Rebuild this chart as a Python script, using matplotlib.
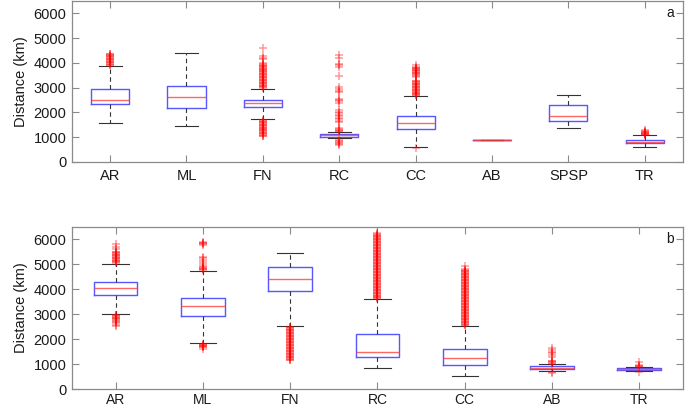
import matplotlib
matplotlib.use("Agg")
import matplotlib.pyplot as plt

plt.rcParams['font.family'] = ['Liberation Sans', 'DejaVu Sans']

# ---------------- Panel a ----------------
cats_a = ["AR", "ML", "FN", "RC", "CC", "AB", "SPSP", "TR"]
whislo_a = [1590, 1450, 1720, 950, 600, 870, 1390, 610]
q1_a     = [2320, 2170, 2200, 1020, 1350, 875, 1670, 770]
med_a    = [2490, 2640, 2360, 1070, 1590, 880, 1840, 800]
q3_a     = [2930, 3070, 2500, 1130, 1860, 885, 2280, 890]
whishi_a = [3870, 4390, 2950, 1220, 2660, 890, 2720, 1070]
fliers_a = [
    [3900, 3930, 3960, 3990, 4020, 4050, 4080, 4110, 4140, 4170, 4200, 4230, 4260,
     4290, 4320, 4350, 4370],
    [],
    [2990, 3020, 3050, 3080, 3110, 3140, 3170, 3200, 3230, 3260, 3290, 3320, 3350,
     3380, 3410, 3440, 3470, 3500, 3530, 3560, 3590, 3620, 3650, 3680, 3710, 3740,
     3770, 3800, 3830, 3860, 3890, 3920, 3950, 4010, 4150, 4200, 4280, 4610,
     1690, 1660, 1630, 1600, 1570, 1540, 1510, 1480, 1450, 1420, 1390, 1360, 1330,
     1300, 1270, 1240, 1210, 1180, 1150, 1120, 1090, 1060, 1040],
    [4320, 4210, 3950, 3900, 3840, 3480, 3010, 2950, 2880, 2810, 2560, 2500, 2440,
     2370, 2080, 2020, 1960, 1900, 1840, 1780, 1720, 1660, 1610, 1360, 1320, 1280,
     1250, 1230, 900, 860, 820, 780, 740, 690],
    [3920, 3840, 3810, 3780, 3750, 3720, 3690, 3660, 3630, 3600, 3570, 3540, 3510,
     3480, 3410, 3280, 3250, 3220, 3190, 3160, 3130, 3100, 3070, 3040, 3010, 2980,
     2950, 2920, 2890, 2860, 2830, 2800, 2770, 2740, 2710, 2690, 580],
    [],
    [],
    [1080, 1100, 1120, 1140, 1160, 1180, 1200, 1220, 1240, 1290],
]

# ---------------- Panel b ----------------
cats_b = ["AR", "ML", "FN", "RC", "CC", "AB", "TR"]
whislo_b = [3030, 1840, 2540, 830, 530, 730, 730]
q1_b     = [3780, 2920, 3950, 1280, 965, 820, 768]
med_b    = [4060, 3340, 4410, 1480, 1270, 860, 800]
q3_b     = [4290, 3650, 4890, 2210, 1600, 912, 848]
whishi_b = [5010, 4730, 5445, 3620, 2540, 1010, 888]
fliers_b = [
    [5800, 5700, 5620, 5510, 5480, 5450, 5420, 5390, 5360, 5330, 5300, 5270, 5240,
     5210, 5180, 5150, 5120, 5090, 5060, 2990, 2960, 2930, 2900, 2870, 2840, 2810,
     2780, 2750, 2700, 2640, 2580, 2520],
    [5900, 5870, 5840, 5810, 5780, 5300, 5240, 5180, 5100, 5020, 4920, 4890, 4860,
     4830, 4800, 4770, 1800, 1780, 1760, 1740, 1720, 1700, 1680, 1620],
    [2510, 2480, 2450, 2420, 2390, 2360, 2330, 2300, 2270, 2240, 2210, 2180, 2150,
     2120, 2090, 2060, 2030, 2000, 1970, 1940, 1910, 1880, 1850, 1820, 1790, 1760,
     1730, 1700, 1670, 1640, 1610, 1580, 1550, 1520, 1490, 1460, 1430, 1400, 1370,
     1340, 1310, 1280, 1250, 1220, 1190, 1160],
    [6240, 6210, 6180, 6150, 6120, 6090, 6060, 6030, 6000, 5970, 5940, 5910, 5880,
     5850, 5820, 5790, 5760, 5730, 5700, 5670, 5640, 5610, 5580, 5550, 5520, 5490,
     5460, 5430, 5400, 5370, 5340, 5310, 5280, 5250, 5220, 5190, 5160, 5130, 5100,
     5070, 5040, 5010, 4980, 4950, 4920, 4890, 4860, 4830, 4800, 4770, 4740, 4710,
     4680, 4650, 4620, 4590, 4560, 4530, 4500, 4470, 4440, 4410, 4380, 4350, 4320,
     4290, 4260, 4230, 4200, 4170, 4140, 4110, 4080, 4050, 4020, 3990, 3960, 3930,
     3900, 3870, 3840, 3810, 3780, 3750, 3720, 3690, 3660, 3640],
    [4920, 4810, 4780, 4750, 4720, 4690, 4660, 4630, 4600, 4570, 4540, 4510, 4480,
     4450, 4420, 4390, 4360, 4330, 4300, 4270, 4240, 4210, 4180, 4150, 4120, 4090,
     4060, 4030, 4000, 3970, 3940, 3910, 3880, 3850, 3820, 3790, 3760, 3730, 3700,
     3670, 3640, 3610, 3580, 3550, 3520, 3490, 3460, 3430, 3400, 3370, 3340, 3310,
     3280, 3250, 3220, 3190, 3160, 3130, 3100, 3070, 3040, 3010, 2980, 2950, 2920,
     2890, 2860, 2830, 2800, 2770, 2740, 2710, 2680, 2650, 2620, 2590, 2560],
    [1640, 1580, 1510, 1440, 1380, 1310, 1150, 1120, 1090, 1060, 1030, 700, 660],
    [1086, 950, 930, 910, 890, 700],
]

BOX_C = "#3a3aff"
MED_C = "#ff4040"
FRAME_C = "#8a8a8a"


def draw(ax, cats, wlo, q1, med, q3, whi, fl, ylabel, letter, xpad, xsize):
    stats = []
    for i, c in enumerate(cats):
        stats.append(dict(label=c, whislo=wlo[i], q1=q1[i], med=med[i],
                          q3=q3[i], whishi=whi[i], fliers=fl[i]))
    ax.bxp(stats, positions=range(1, len(cats) + 1), widths=0.5,
           capwidths=0.3, showfliers=True,
           boxprops=dict(color=BOX_C, linewidth=1.0, alpha=0.85),
           medianprops=dict(color=MED_C, linewidth=1.0, alpha=0.8),
           whiskerprops=dict(color="#333333", linewidth=0.8, linestyle=(0, (4, 3))),
           capprops=dict(color="#333333", linewidth=0.8),
           flierprops=dict(marker="+", markeredgecolor="red", markersize=6,
                           markeredgewidth=1.1, alpha=0.4, linestyle="none"))
    ax.set_xlim(0.5, len(cats) + 0.5)
    ax.set_ylim(0, 6500)
    ax.set_yticks([0, 1000, 2000, 3000, 4000, 5000, 6000])
    ax.set_ylabel(ylabel, fontsize=10.5, color="#1a1a1a", labelpad=4)
    ax.tick_params(axis="both", direction="in", length=5, width=0.8,
                   color=FRAME_C, labelsize=10.5, labelcolor="#1a1a1a",
                   top=True, right=True)
    ax.tick_params(axis="y", pad=4)
    ax.tick_params(axis="x", labelsize=xsize, pad=xpad)
    for s in ax.spines.values():
        s.set_color(FRAME_C)
        s.set_linewidth(0.9)
    ax.text(0.985, 0.97, letter, transform=ax.transAxes, ha="right", va="top",
            fontsize=10, color="#1a1a1a")


fig = plt.figure(figsize=(6.85, 4.08), dpi=100)
ax1 = fig.add_axes([0.105, 0.603, 0.892, 0.395])
ax2 = fig.add_axes([0.105, 0.046, 0.892, 0.398])

draw(ax1, cats_a, whislo_a, q1_a, med_a, q3_a, whishi_a, fliers_a, "Distance (km)", "a", 5, 10.5)
draw(ax2, cats_b, whislo_b, q1_b, med_b, q3_b, whishi_b, fliers_b, "Distance (km)", "b", 2.5, 10)

fig.savefig("out.png", dpi=100)
